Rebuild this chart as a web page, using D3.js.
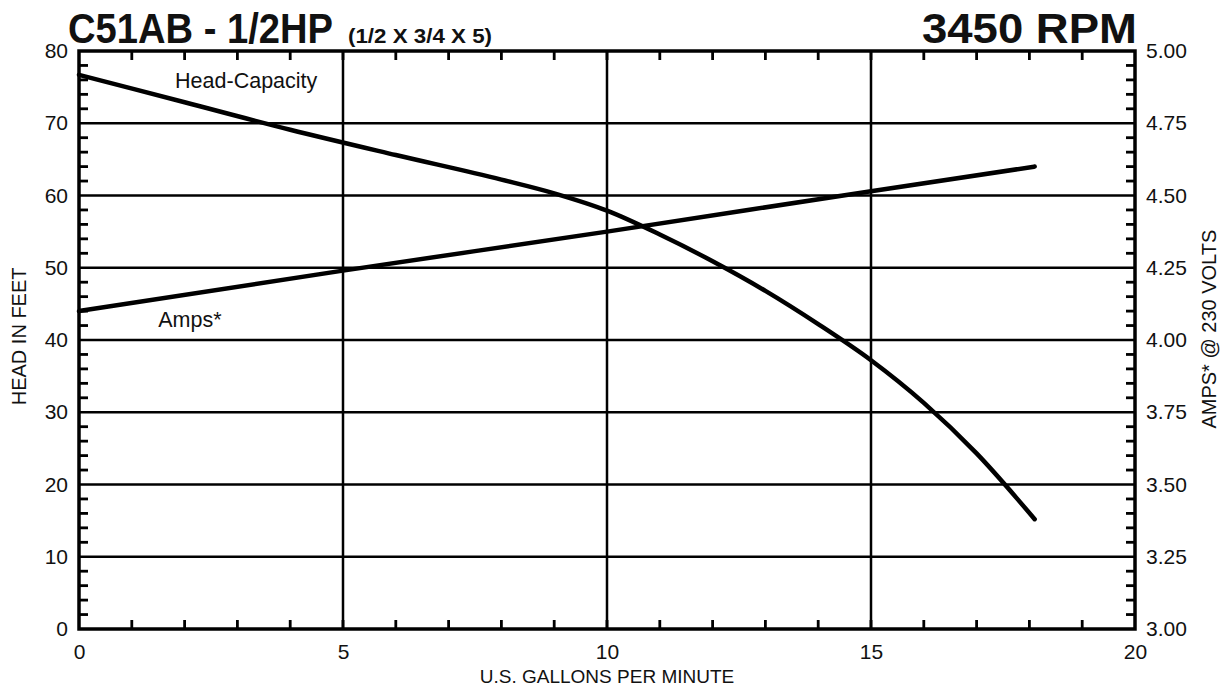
<!DOCTYPE html>
<html>
<head>
<meta charset="utf-8">
<script src="https://cdnjs.cloudflare.com/ajax/libs/d3/7.8.5/d3.min.js"></script>
<style>
    body { margin: 0; background: #fff; }
    svg text { font-family: "Liberation Sans", Arial, Helvetica, sans-serif; fill: #111; }
</style>
</head>
<body>
<svg id="chart" width="1223" height="687"></svg>
<script>
// flow in US gallons per minute
var flowGpm = [0, 2, 4, 6, 8, 9, 10, 11, 12, 13, 14, 15, 16, 17, 18.1];
// head in feet for each flow above
var headFt = [76.7, 72.9, 69.1, 65.6, 62.2, 60.3, 57.9, 54.6, 50.9, 46.8, 42.2, 37.2, 31.3, 24.3, 15.2];

var ampsFlow = [0, 5, 10, 15, 18.1];
var ampsVal = [4.10, 4.24, 4.375, 4.515, 4.60];

var xTicks = [0, 5, 10, 15, 20];
var headTicks = [0, 10, 20, 30, 40, 50, 60, 70, 80];
var ampTicks = [3.00, 3.25, 3.50, 3.75, 4.00, 4.25, 4.50, 4.75, 5.00];

var svg = d3.select("#chart");

var margin = { top: 51, bottom: 58, left: 79, right: 88 }
var width = 1223 - margin.left - margin.right;
var height = 687 - margin.top - margin.bottom;

var xScale = d3.scaleLinear().domain([0, 20]).range([margin.left, margin.left + width]);
var yScale = d3.scaleLinear().domain([0, 80]).range([margin.top + height, margin.top]);
var ampScale = d3.scaleLinear().domain([3, 5]).range([margin.top + height, margin.top]);

// grid lines
var grid = svg.append("g").attr("class", "grid");
grid.selectAll(".vgrid")
    .data(xTicks.slice(1, -1))
    .enter().append("line")
    .attr("x1", function (d) { return xScale(d); })
    .attr("x2", function (d) { return xScale(d); })
    .attr("y1", yScale(0)).attr("y2", yScale(80))
    .attr("stroke", "#000").attr("stroke-width", 2.5);
grid.selectAll(".hgrid")
    .data(headTicks.slice(1, -1))
    .enter().append("line")
    .attr("x1", xScale(0)).attr("x2", xScale(20))
    .attr("y1", function (d) { return yScale(d); })
    .attr("y2", function (d) { return yScale(d); })
    .attr("stroke", "#000").attr("stroke-width", 2.5);

// minor ticks, all pointing inward
var tickLen = 9;
var minorX = d3.range(1, 20);
var minorY = d3.range(2, 80, 2).filter(function (d) { return d % 10 != 0; });
var ticks = svg.append("g").attr("class", "ticks").attr("stroke", "#000").attr("stroke-width", 2.8);
minorX.forEach(function (d) {
    ticks.append("line").attr("x1", xScale(d)).attr("x2", xScale(d))
        .attr("y1", yScale(0)).attr("y2", yScale(0) - tickLen);
    ticks.append("line").attr("x1", xScale(d)).attr("x2", xScale(d))
        .attr("y1", yScale(80)).attr("y2", yScale(80) + tickLen);
});
minorY.forEach(function (d) {
    ticks.append("line").attr("x1", xScale(0)).attr("x2", xScale(0) + tickLen)
        .attr("y1", yScale(d)).attr("y2", yScale(d));
    ticks.append("line").attr("x1", xScale(20)).attr("x2", xScale(20) - tickLen)
        .attr("y1", yScale(d)).attr("y2", yScale(d));
});

// frame
svg.append("rect")
    .attr("x", xScale(0)).attr("y", yScale(80))
    .attr("width", xScale(20) - xScale(0))
    .attr("height", yScale(0) - yScale(80))
    .attr("fill", "none").attr("stroke", "#000").attr("stroke-width", 3.5);

// axes - only the labels are used, lines drawn above
var xAxisGen = g => g
    .attr("transform", `translate(0,${yScale(0)})`)
    .call(d3.axisBottom(xScale).tickValues(xTicks).tickSize(0).tickPadding(15))
    .call(g => g.select(".domain").remove());
var yAxisGen = g => g
    .attr("transform", `translate(${xScale(0)},0)`)
    .call(d3.axisLeft(yScale).tickValues(headTicks).tickSize(0).tickPadding(11))
    .call(g => g.select(".domain").remove());
var ampAxisGen = g => g
    .attr("transform", `translate(${xScale(20)},0)`)
    .call(d3.axisRight(ampScale).tickValues(ampTicks).tickSize(0).tickPadding(11)
        .tickFormat(d3.format(".2f")))
    .call(g => g.select(".domain").remove());

svg.append("g").attr("class", "x axis").call(xAxisGen);
svg.append("g").attr("class", "y axis").call(yAxisGen);
svg.append("g").attr("class", "amp axis").call(ampAxisGen);
svg.selectAll(".axis text").attr("font-size", 21).attr("fill", "#111")
    .attr("font-family", "Liberation Sans, Arial, sans-serif");

// curves
var headData = flowGpm.map(function (d, i) { return { q: d, v: headFt[i] }; });
var ampData = ampsFlow.map(function (d, i) { return { q: d, v: ampsVal[i] }; });

var headLine = d3.line()
    .x(function (d) { return xScale(d.q); })
    .y(function (d) { return yScale(d.v); })
    .curve(d3.curveMonotoneX);
var ampLine = d3.line()
    .x(function (d) { return xScale(d.q); })
    .y(function (d) { return ampScale(d.v); })
    .curve(d3.curveMonotoneX);

svg.append("path").datum(headData).attr("d", headLine)
    .attr("fill", "none").attr("stroke", "#000").attr("stroke-width", 4.5)
    .attr("stroke-linecap", "round");
svg.append("path").datum(ampData).attr("d", ampLine)
    .attr("fill", "none").attr("stroke", "#000").attr("stroke-width", 4.5)
    .attr("stroke-linecap", "round");

// curve labels
svg.append("text").attr("x", xScale(1.82)).attr("y", yScale(74.9))
    .attr("font-size", 21.5).text("Head-Capacity");
svg.append("text").attr("x", xScale(1.5)).attr("y", yScale(41.8))
    .attr("font-size", 21.5).text("Amps*");

// titles
svg.append("text").attr("x", 68).attr("y", 43)
    .attr("font-size", 42).attr("font-weight", "bold")
    .attr("textLength", 265).attr("lengthAdjust", "spacingAndGlyphs")
    .text("C51AB - 1/2HP");
svg.append("text").attr("x", 348).attr("y", 43)
    .attr("font-size", 21).attr("font-weight", "bold")
    .attr("textLength", 144).attr("lengthAdjust", "spacingAndGlyphs")
    .text("(1/2 X 3/4 X 5)");
svg.append("text").attr("x", 922).attr("y", 43)
    .attr("font-size", 42).attr("font-weight", "bold")
    .attr("textLength", 215).attr("lengthAdjust", "spacingAndGlyphs")
    .text("3450 RPM");

// axis titles
svg.append("text").attr("x", xScale(10)).attr("y", 683)
    .attr("text-anchor", "middle").attr("font-size", 19)
    .text("U.S. GALLONS PER MINUTE");
svg.append("text")
    .attr("transform", "translate(26," + yScale(40.5) + ") rotate(-90)")
    .attr("text-anchor", "middle").attr("font-size", 20)
    .text("HEAD IN FEET");
svg.append("text")
    .attr("transform", "translate(1216," + yScale(41.5) + ") rotate(-90)")
    .attr("text-anchor", "middle").attr("font-size", 20)
    .text("AMPS* @ 230 VOLTS");
</script>
</body>
</html>
